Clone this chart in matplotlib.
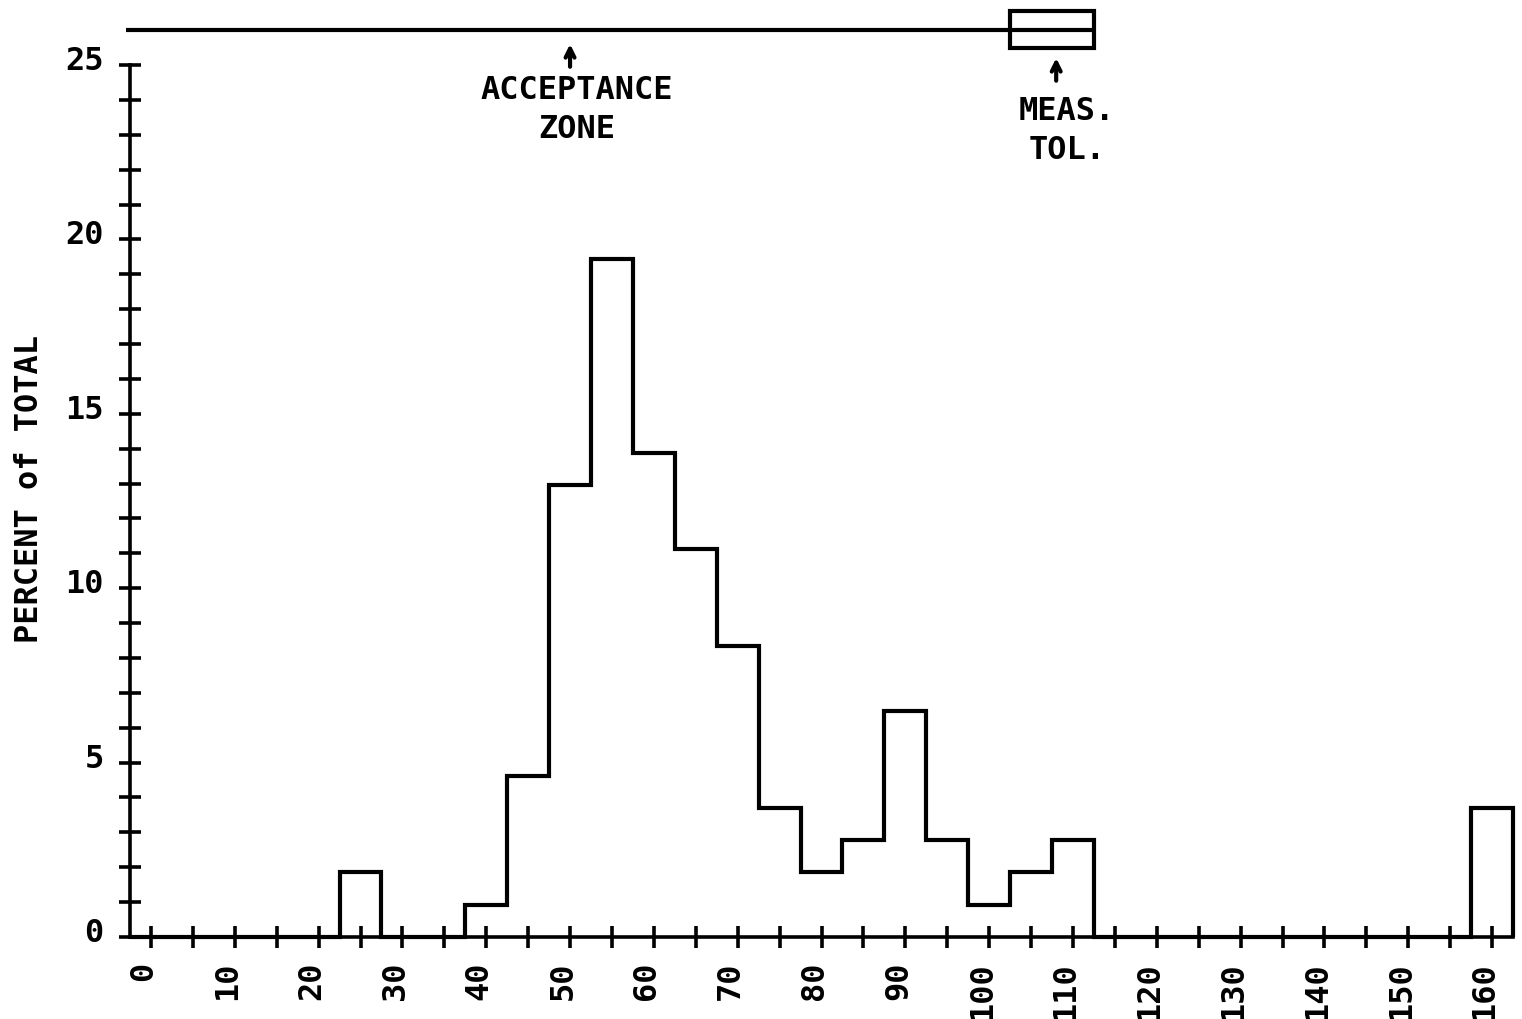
import matplotlib
matplotlib.use("Agg")
import matplotlib.pyplot as plt
import matplotlib.transforms as mtransforms
from matplotlib.patches import Rectangle
import numpy as np

# ---- data ----
bin_centers = list(range(0, 165, 5))
percent = [0, 0, 0, 0, 0, 1.85, 0, 0, 0.93, 4.63, 12.96, 19.44, 13.89, 11.11,
           8.33, 3.70, 1.85, 2.78, 6.48, 2.78, 0.93, 1.85, 2.78,
           0, 0, 0, 0, 0, 0, 0, 0, 0, 3.70]
bin_width = 5
x_tick_labels = [str(v) for v in range(0, 170, 10)]
y_tick_labels = [str(v) for v in range(0, 30, 5)]
acceptance_level = 26
acceptance_x = 50
meas_tol_range = (102.5, 112.5)
meas_tol_height = (25.5, 26.55)

FONT = dict(family="DejaVu Sans Mono", weight="bold", size=23)
LW = 3.0

fig = plt.figure(figsize=(15.22, 10.19), dpi=100)
W, H = 1522, 1019
ax = fig.add_axes([130 / W, 1 - 937 / H, (1513 - 130) / W, (937 - 65) / H])

edges = np.arange(bin_centers[0] - bin_width / 2,
                  bin_centers[-1] + bin_width / 2 + 0.01, bin_width)
ax.stairs(percent, edges, baseline=0, color="black", lw=LW, clip_on=False,
          joinstyle="miter")

ax.set_xlim(edges[0], edges[-1])
ax.set_ylim(0, 25)

for s in ["top", "right"]:
    ax.spines[s].set_visible(False)
for s in ["left", "bottom"]:
    ax.spines[s].set_linewidth(2.6)

ax.set_xticks(range(0, 170, 10))
ax.set_xticklabels(x_tick_labels, rotation=90, **FONT)
ax.set_xticks(range(5, 165, 10), minor=True)
ax.set_yticks(range(0, 30, 5))
ax.set_yticklabels(y_tick_labels, **FONT)
ax.set_yticks(range(0, 26), minor=True)
ax.tick_params(which="both", direction="inout", length=16, width=2.6,
               color="black")
ax.tick_params(axis="y", which="major", pad=11)
ax.tick_params(axis="x", which="major", pad=10)

dx = mtransforms.ScaledTranslation(-7 / 100, 0, fig.dpi_scale_trans)
for lab in ax.get_xticklabels():
    lab.set_transform(lab.get_transform() + dx)
dy = mtransforms.ScaledTranslation(0, 7 / 100, fig.dpi_scale_trans)
for lab in ax.get_yticklabels():
    lab.set_transform(lab.get_transform() + dy)

# y label
fig.text(30 / W, 1 - 489 / H, "PERCENT of TOTAL", rotation=90,
         ha="center", va="center", **FONT)

# acceptance zone line and measurement tolerance box
ax.plot([-3, meas_tol_range[1]], [acceptance_level, acceptance_level],
        color="black", lw=LW, clip_on=False, solid_capstyle="butt")
ax.add_patch(Rectangle((meas_tol_range[0], meas_tol_height[0]),
                       meas_tol_range[1] - meas_tol_range[0],
                       meas_tol_height[1] - meas_tol_height[0],
                       fill=False, ec="black", lw=LW, clip_on=False))

arrow = dict(arrowstyle="->", lw=3, color="black", mutation_scale=16,
             shrinkA=0, shrinkB=0)
ax.annotate("", xy=(acceptance_x, 25.6), xytext=(acceptance_x, 24.95),
            arrowprops=arrow, annotation_clip=False)
ax.text(acceptance_x + 0.8, 24.7, "ACCEPTANCE\nZONE", ha="center", va="top",
        linespacing=1.3, **FONT)

mt = 108
ax.annotate("", xy=(mt, 25.2), xytext=(mt, 24.55),
            arrowprops=arrow, annotation_clip=False)
ax.text(mt + 1.3, 24.1, "MEAS.\nTOL.", ha="center", va="top",
        linespacing=1.3, **FONT)

fig.savefig("out.png", dpi=100, facecolor="white")
